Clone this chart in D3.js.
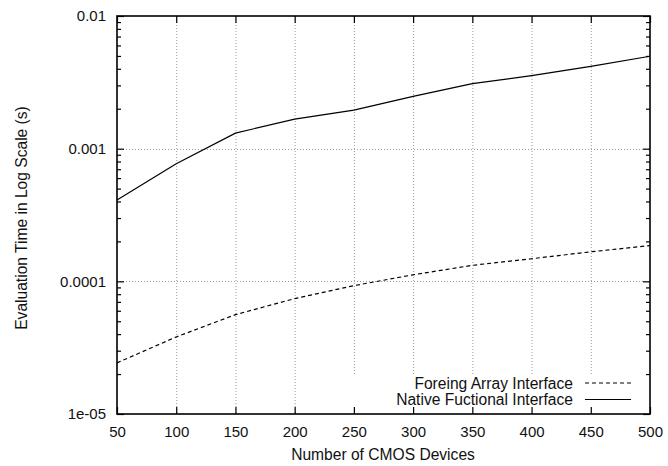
<!DOCTYPE html>
<html>
<head>
<meta charset="utf-8">
<script src="https://cdn.jsdelivr.net/npm/d3@7"></script>
<style>
  html, body { margin: 0; padding: 0; background: #fff; }
  svg { display: block; font-family: "Liberation Sans", Arial, Helvetica, sans-serif; }
</style>
</head>
<body>
<svg id="chart" width="668" height="466"></svg>
<script>
// Number of CMOS devices simulated
const devices = [50, 100, 150, 200, 250, 300, 350, 400, 450, 500];
// Evaluation time (seconds) for each interface
const foreignArray = [2.43e-5, 3.81e-5, 5.61e-5, 7.41e-5, 9.28e-5, 1.12e-4, 1.32e-4, 1.48e-4, 1.67e-4, 1.86e-4];
const nativeFunctional = [4.1e-4, 7.7e-4, 1.31e-3, 1.67e-3, 1.95e-3, 2.48e-3, 3.09e-3, 3.55e-3, 4.17e-3, 4.97e-3];
const seriesNames = ["Foreing Array Interface", "Native Fuctional Interface"];
const xTicks = [50, 100, 150, 200, 250, 300, 350, 400, 450, 500];
const yTicks = [1e-5, 1e-4, 1e-3, 1e-2];
const yTickLabels = ["1e-05", "0.0001", "0.001", "0.01"];

const svg = d3.select("#chart");
const plotL = 117, plotR = 650, plotT = 16, plotB = 414;
const tickFont = 15, textFont = 15.6;

const x = d3.scaleLinear().domain([50, 500]).range([plotL, plotR]);
const y = d3.scaleLog().domain([1e-5, 1e-2]).range([plotB, plotT]);

// Minor log ticks: 2..9 within each decade
const minorTicks = [];
[1e-5, 1e-4, 1e-3].forEach(d => { for (let k = 2; k <= 9; k++) minorTicks.push(d * k); });

// Dotted grid at major ticks
const grid = svg.append("g")
  .attr("stroke", "#9a9a9a").attr("stroke-width", 1).attr("stroke-dasharray", "1,2");
grid.selectAll("line.v").data(xTicks.slice(1, -1)).join("line")
  .attr("x1", d => x(d) + 0.5).attr("x2", d => x(d) + 0.5)
  .attr("y1", plotT).attr("y2", plotB);
grid.selectAll("line.h").data(yTicks.slice(1, -1)).join("line")
  .attr("x1", plotL).attr("x2", plotR)
  .attr("y1", d => Math.round(y(d)) + 0.5).attr("y2", d => Math.round(y(d)) + 0.5);

// Opaque key area
svg.append("rect").attr("x", 342).attr("y", 375).attr("width", plotR - 342).attr("height", plotB - 375)
  .attr("fill", "#fff");

// Ticks on all four sides (drawn with d3 axes, inward)
const axisG = svg.append("g");
const bottomAxis = d3.axisBottom(x).tickValues(xTicks).tickSize(-7).tickFormat(d3.format("d")).tickPadding(12);
axisG.append("g").attr("transform", `translate(0,${plotB})`).call(bottomAxis);
axisG.append("g").attr("transform", `translate(0,${plotT})`)
  .call(d3.axisTop(x).tickValues(xTicks).tickSize(-7).tickFormat(""));
const leftAxis = d3.axisLeft(y).tickValues(yTicks).tickSize(-7)
  .tickFormat((d, i) => yTickLabels[i]).tickPadding(11);
axisG.append("g").attr("transform", `translate(${plotL},0)`).call(leftAxis);
axisG.append("g").attr("transform", `translate(${plotL},0)`)
  .call(d3.axisLeft(y).tickValues(minorTicks).tickSize(-4).tickFormat(""));
axisG.append("g").attr("transform", `translate(${plotR},0)`)
  .call(d3.axisRight(y).tickValues(yTicks).tickSize(-7).tickFormat(""));
axisG.append("g").attr("transform", `translate(${plotR},0)`)
  .call(d3.axisRight(y).tickValues(minorTicks).tickSize(-4).tickFormat(""));
axisG.selectAll(".domain").remove();
axisG.selectAll(".tick line").attr("stroke", "#000").attr("stroke-width", 1.2);
axisG.selectAll(".tick text").attr("fill", "#111")
  .attr("font-family", "Liberation Sans, Arial, sans-serif").attr("font-size", tickFont);

// Frame
svg.append("rect").attr("x", plotL).attr("y", plotT).attr("width", plotR - plotL).attr("height", plotB - plotT)
  .attr("fill", "none").attr("stroke", "#000").attr("stroke-width", 1.6);

// Series
const line = d3.line().x(d => x(d[0])).y(d => y(d[1]));
const foreignPts = devices.map((d, i) => [d, foreignArray[i]]);
const nativePts = devices.map((d, i) => [d, nativeFunctional[i]]);
svg.append("path").datum(foreignPts).attr("d", line)
  .attr("fill", "none").attr("stroke", "#000").attr("stroke-width", 1.2).attr("stroke-dasharray", "4,3");
svg.append("path").datum(nativePts).attr("d", line)
  .attr("fill", "none").attr("stroke", "#000").attr("stroke-width", 1.2);

// Key
const key = svg.append("g").attr("font-size", textFont).attr("fill", "#111");
const keyRows = [
  { name: seriesNames[0], y: 383, dash: "4,3" },
  { name: seriesNames[1], y: 399.5, dash: null }
];
keyRows.forEach(r => {
  key.append("text").attr("x", 573).attr("y", r.y + 5.5).attr("text-anchor", "end").text(r.name);
  key.append("line").attr("x1", 585).attr("x2", 631).attr("y1", r.y).attr("y2", r.y)
    .attr("stroke", "#000").attr("stroke-width", 1.2).attr("stroke-dasharray", r.dash);
});

// Axis titles
svg.append("text").attr("x", 383).attr("y", 460).attr("text-anchor", "middle")
  .attr("font-size", textFont).attr("fill", "#111").text("Number of CMOS Devices");
svg.append("text").attr("transform", `translate(27,${(plotT + plotB) / 2 + 3}) rotate(-90)`)
  .attr("text-anchor", "middle").attr("font-size", textFont).attr("fill", "#111")
  .text("Evaluation Time in Log Scale (s)");
</script>
</body>
</html>
